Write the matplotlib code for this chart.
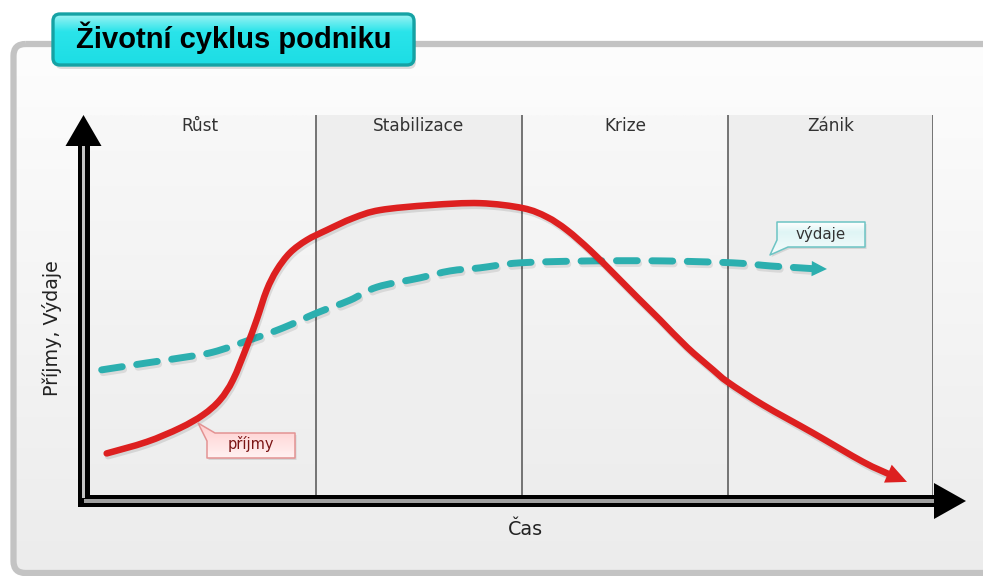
import numpy as np
import matplotlib
matplotlib.use("Agg")
import matplotlib.pyplot as plt
import matplotlib.colors as mcolors
import matplotlib.patheffects as pe
from matplotlib.patches import FancyBboxPatch, Polygon, Rectangle, PathPatch
from matplotlib.path import Path

# ---------------- data ----------------
title = "Životní cyklus podniku"
phase_labels = ["Růst", "Stabilizace", "Krize", "Zánik"]
phase_edges = [0, 27.3, 51.6, 75.9, 100]
y_label = "Příjmy, Výdaje"
x_label = "Čas"

revenue_label = "příjmy"
revenue_t = [2.67, 7.39, 11.31, 14.02, 16.02, 17.55, 19.16, 20.34, 21.52, 22.70,
             24.26, 26.23, 28.59, 31.68, 34.86, 40.75, 46.64, 51.71, 54.53, 56.89,
             59.60, 62.31, 65.14, 67.84, 71.02, 74.09, 75.85, 79.98, 85.87, 91.76,
             94.94, 96.94]
revenue_v = [12.1, 15.1, 18.7, 22.1, 26.0, 31.2, 39.8, 46.8, 54.5, 59.7,
             64.2, 67.5, 70.1, 73.2, 75.3, 76.6, 77.1, 75.8, 73.5, 70.1,
             64.9, 59.0, 52.7, 46.8, 39.7, 33.8, 30.6, 24.7, 17.4, 9.9,
             6.6, 4.7]

expense_label = "výdaje"
expense_t = [2.08, 7.39, 11.31, 15.19, 19.55, 23.44, 27.44, 31.33, 34.51, 39.58,
             43.11, 46.64, 51.35, 59.60, 68.20, 76.44, 80.80, 84.33, 85.75, 87.51]
expense_v = [33.8, 35.6, 36.9, 38.4, 41.6, 44.7, 48.6, 51.9, 55.3, 57.7,
             59.5, 60.3, 61.6, 62.1, 62.1, 61.6, 60.8, 60.3, 60.1, 60.0]

# ---------------- figure ----------------
W, H = 983, 576
fig = plt.figure(figsize=(W / 100, H / 100), dpi=100)
fig.patch.set_facecolor("white")


def pix_axes(z):
    a = fig.add_axes([0, 0, 1, 1], zorder=z)
    a.axis("off")
    return a


def vgrad(axh, patch, stops, extent, z):
    """vertical gradient image clipped to patch; extent=(x0,x1,ytop,ybottom)"""
    n = 256
    pos = np.array([s[0] for s in stops])
    cols = np.array([mcolors.to_rgb(s[1]) for s in stops])
    g = np.linspace(0, 1, n)
    img = np.stack([np.interp(g, pos, cols[:, k]) for k in range(3)], axis=1)[:, None, :]
    x0, x1, yt, yb = extent
    im = axh.imshow(img, extent=(x0, x1, yb, yt), origin="upper", aspect="auto",
                    interpolation="bilinear", zorder=z)
    if patch is not None:
        im.set_clip_path(patch)
    return im


def smooth_path(xs, ys):
    """Catmull-Rom curve through the given points, as cubic Bezier path."""
    P = np.column_stack([xs, ys]).astype(float)
    n = len(P)
    verts = [P[0]]
    codes = [Path.MOVETO]
    for i in range(n - 1):
        p0 = P[i - 1] if i > 0 else P[i]
        p1 = P[i]
        p2 = P[i + 1]
        p3 = P[i + 2] if i + 2 < n else P[i + 1]
        c1 = p1 + (p2 - p0) / 6.0
        c2 = p2 - (p3 - p1) / 6.0
        verts += [c1, c2, p2]
        codes += [Path.CURVE4] * 3
    return Path(verts, codes)


bg = pix_axes(0)
ax = fig.add_axes([84 / W, (H - 500) / H, 849 / W, 385 / H], zorder=1)
ax.axis("off")
fg = pix_axes(2)

# ---- panel ----
panel = FancyBboxPatch((13.5, 44), 1010, 529, boxstyle="round,pad=0,rounding_size=12",
                       fc="none", ec="#c3c3c3", lw=4.5, zorder=2)
bg.add_patch(panel)
vgrad(bg, panel, [(0, "#fdfdfd"), (1, "#ececec")], (13, 1025, 44, 573), 1)

# ---- phase columns ----
for i, (a, b) in enumerate(zip(phase_edges[:-1], phase_edges[1:])):
    if i % 2 == 0:
        g = np.linspace(0, 1, 128)
        c0 = np.array(mcolors.to_rgb("#f8f8f8"))
        c1 = np.array(mcolors.to_rgb("#ededed"))
        img = (c0[None, :] * (1 - g[:, None]) + c1[None, :] * g[:, None])[:, None, :]
        ax.imshow(img, extent=(a, b, 0, 100), origin="upper", aspect="auto",
                  interpolation="bilinear", zorder=0)
    else:
        ax.axvspan(a, b, color="#eeeeee", zorder=0, lw=0)
    ax.text((a + b) / 2, 95.8, phase_labels[i], ha="center", va="baseline",
            fontsize=12.2, color="#333333", family="DejaVu Sans", zorder=2)
for e in phase_edges[1:]:
    ax.plot([e, e], [0, 100], color="#6a6a6a", lw=1.3, zorder=1, solid_capstyle="butt")

# ---- curves ----
red = "#dd2020"
teal = "#2cafaf"

teal_patch = PathPatch(smooth_path(expense_t[:-1], expense_v[:-1]), fill=False,
                       ec=teal, lw=5.0, linestyle=(0, (3.0, 2.1)), capstyle="round",
                       joinstyle="round", zorder=3,
                       path_effects=[pe.SimpleLineShadow(offset=(1, -2), shadow_color="black", alpha=0.09),
                                     pe.Normal()])
ax.add_patch(teal_patch)
ax.annotate("", xy=(expense_t[-1], expense_v[-1]), xytext=(expense_t[-2], expense_v[-2]),
            arrowprops=dict(arrowstyle="-|>,head_length=1.1,head_width=0.55",
                            mutation_scale=10, fc=teal, ec=teal, lw=0,
                            shrinkA=0, shrinkB=0), zorder=3)

red_patch = PathPatch(smooth_path(revenue_t[:-1], revenue_v[:-1]), fill=False,
                      ec=red, lw=4.7, capstyle="round", joinstyle="round", zorder=4,
                      path_effects=[pe.SimpleLineShadow(offset=(1, -2), shadow_color="black", alpha=0.10),
                                    pe.Normal()])
ax.add_patch(red_patch)
ax.annotate("", xy=(revenue_t[-1], revenue_v[-1]), xytext=(revenue_t[-2], revenue_v[-2]),
            arrowprops=dict(arrowstyle="-|>,head_length=1.5,head_width=0.7",
                            mutation_scale=10, fc=red, ec=red, lw=0,
                            shrinkA=0, shrinkB=0), zorder=4)

ax.set_xlim(0, 100)
ax.set_ylim(0, 100)

# ---- axis arrows ----
fg.add_patch(Rectangle((77.5, 140), 12, 367, fc="black", ec="none", zorder=3))
fg.add_patch(Rectangle((78, 495), 860, 12, fc="black", ec="none", zorder=3))
fg.add_patch(Rectangle((81.8, 140), 3.5, 358, fc="#c4c4c4", ec="none", zorder=4))
fg.add_patch(Rectangle((84, 499.3), 852, 3.5, fc="#a0a0a0", ec="none", zorder=4))
fg.add_patch(Polygon([(65.5, 146), (101.5, 146), (83.5, 115)], closed=True,
                     fc="black", ec="none", zorder=4))
fg.add_patch(Polygon([(934, 483), (934, 519), (966, 501)], closed=True,
                     fc="black", ec="none", zorder=4))

fg.text(52, 328, y_label, rotation=90, ha="center", va="center", fontsize=13.7,
        color="#222222", family="DejaVu Sans", zorder=5)
fg.text(525, 535, x_label, ha="center", va="baseline", fontsize=13.8,
        color="#222222", family="DejaVu Sans", zorder=5)

# ---- title box ----
tshadow = FancyBboxPatch((55, 18), 361, 51, boxstyle="round,pad=0,rounding_size=7",
                         fc="black", alpha=0.12, ec="none", zorder=4)
fg.add_patch(tshadow)
tbox = FancyBboxPatch((53, 14), 361, 51, boxstyle="round,pad=0,rounding_size=7",
                      fc="none", ec="#15a2a4", lw=2.4, zorder=6)
fg.add_patch(tbox)
vgrad(fg, tbox, [(0, "#a6f4f4"), (0.35, "#2ae4ea"), (1, "#1cdde4")], (52, 415, 13, 66), 5)
fg.text(233.5, 48, title, ha="center", va="baseline", fontsize=21, fontweight="bold",
        family="Liberation Sans", color="black", zorder=7)


# ---- callouts ----
def callout(verts, text_xy, text, stops, edge, tcolor, fs):
    xs = [v[0] for v in verts]
    ys = [v[1] for v in verts]
    sh = Polygon([(x + 1.5, y + 2) for x, y in verts], closed=True, fc="black",
                 alpha=0.10, ec="none", zorder=5)
    fg.add_patch(sh)
    p = Polygon(verts, closed=True, fc="none", ec=edge, lw=1.1, zorder=7,
                joinstyle="round")
    fg.add_patch(p)
    vgrad(fg, p, stops, (min(xs), max(xs), min(ys), max(ys)), 6)
    fg.text(text_xy[0], text_xy[1], text, ha="center", va="center", fontsize=fs,
            color=tcolor, family="DejaVu Sans", zorder=8)


callout([(215, 433), (295, 433), (295, 458), (207, 458), (207, 441), (198, 423)],
        (251, 444.5), revenue_label,
        [(0, "#ffd2d2"), (0.15, "#ffd2d2"), (1, "#fff2f2")], "#e39393", "#7a1414", 10.5)
callout([(777, 222), (865, 222), (865, 247), (788, 247), (770, 255), (777, 240)],
        (821, 233.5), expense_label,
        [(0, "#ffffff"), (0.3, "#dff5f5"), (1, "#f6fcfc")], "#6cc4c4", "#333333", 10.8)

for a in (bg, fg):
    a.set_xlim(0, W)
    a.set_ylim(H, 0)

fig.savefig("out.png", dpi=100, facecolor="white")
